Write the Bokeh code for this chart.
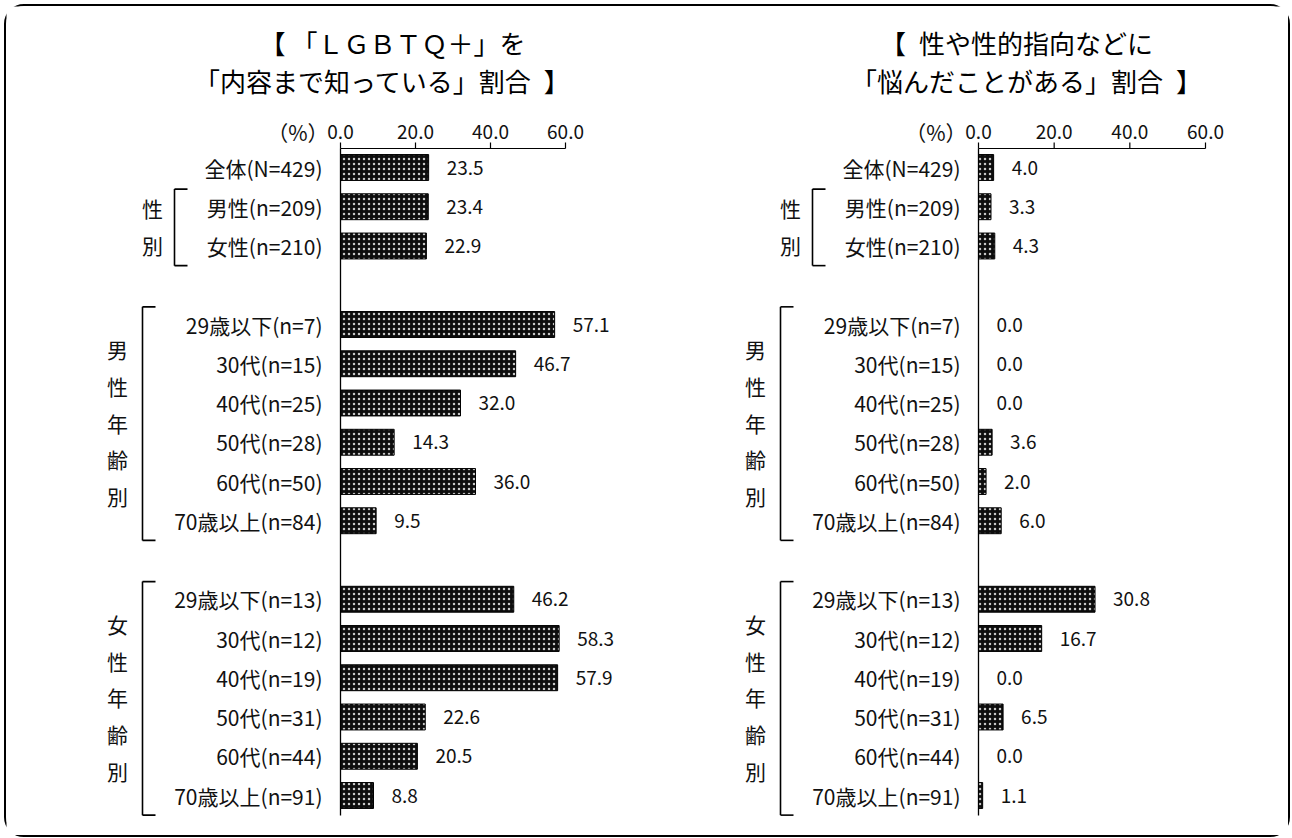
from bokeh.plotting import figure
from bokeh.models import ColumnDataSource, Range1d, Row, InlineStyleSheet
from bokeh.embed import file_html
from bokeh.resources import INLINE
from bokeh.core.properties import value

# ---------------- data ----------------
categories = ["全体(N=429)", "男性(n=209)", "女性(n=210)",
              "29歳以下(n=7)", "30代(n=15)", "40代(n=25)", "50代(n=28)", "60代(n=50)", "70歳以上(n=84)",
              "29歳以下(n=13)", "30代(n=12)", "40代(n=19)", "50代(n=31)", "60代(n=44)", "70歳以上(n=91)"]
group_sizes = [1, 2, 6, 6]
group_labels = [None, "性\n別", "男\n性\n年\n齢\n別", "女\n性\n年\n齢\n別"]
know_pct = [23.5, 23.4, 22.9, 57.1, 46.7, 32.0, 14.3, 36.0, 9.5, 46.2, 58.3, 57.9, 22.6, 20.5, 8.8]
worry_pct = [4.0, 3.3, 4.3, 0.0, 0.0, 0.0, 3.6, 2.0, 6.0, 30.8, 16.7, 0.0, 6.5, 0.0, 1.1]
x_ticks = [0, 20, 40, 60]
tick_labels = ["0.0", "20.0", "40.0", "60.0"]
unit_label = "（%）"
titles = [["【 「ＬＧＢＴＱ＋」を", "「内容まで知っている」割合\u2002】"],
          ["【\u2002性や性的指向などに", "「悩んだことがある」割合\u2002】"]]

FONT = "Noto Sans CJK JP"
TXT = "#111111"

# slot positions (one blank slot before each age group)
slots = []
group_ranges = []
s = 0
for gi, size in enumerate(group_sizes):
    if gi >= 2:
        s += 1
    first = s
    for _ in range(size):
        slots.append(s)
        s += 1
    group_ranges.append((first, s - 1))

# ---------------- layout (pixels) ----------------
FIG_TOP = 6
H = 829
SLOT_PX = 39.25
ROW0_PY = 167          # page y of first row


def Y(py):
    """page-pixel y -> slot units"""
    return (py - ROW0_PY) / SLOT_PX


bracket_off = [None, 166, 198, 198]
label_off = [None, 188, 223, 223]


def make_panel(vals, title_lines, title_offsets, fig_left, width, zero_page, scale):
    def X(px):  # pixel distance from zero -> data units
        return px / scale

    xs = (fig_left - zero_page) / scale
    xe = xs + width / scale
    p = figure(width=width, height=H, x_range=Range1d(xs, xe), y_range=Range1d(Y(FIG_TOP + H), Y(FIG_TOP)),
               output_backend="svg", toolbar_location=None,
               x_axis_location=None, y_axis_location=None,
               min_border_left=0, min_border_right=0, min_border_top=0, min_border_bottom=0)
    p.outline_line_color = None
    p.grid.visible = False
    p.background_fill_color = "white"
    p.border_fill_color = "white"

    # ---- top value axis (0-60) ----
    ax_y = Y(148)
    p.segment(x0=[x_ticks[0]], y0=[ax_y], x1=[x_ticks[-1]], y1=[ax_y], line_color="#000", line_width=1.2)
    p.segment(x0=x_ticks, y0=[ax_y] * len(x_ticks), x1=x_ticks, y1=[Y(142)] * len(x_ticks),
              line_color="#000", line_width=1.2)
    p.text(x=x_ticks, y=[Y(131)] * len(x_ticks), text=tick_labels, text_align="center",
           text_baseline="middle", text_font=value(FONT), text_font_size="19px", text_color=TXT)
    p.text(x=[0], y=[Y(131)], text=[unit_label], x_offset=-12, text_align="right",
           text_baseline="middle", text_font=value(FONT), text_font_size="21px", text_color=TXT)

    src = ColumnDataSource(dict(
        y=slots, v=vals, zero=[0] * len(vals), cat=categories,
        lab=["%.1f" % v for v in vals]))

    p.hbar(y="y", left="zero", right="v", height=0.66, source=src,
           fill_color="#0d0d0d", line_color="#000", line_width=1,
           hatch_pattern="dot", hatch_color="#c8c8c8", hatch_scale=5, hatch_weight=1)

    # category axis line
    p.segment(x0=[0], y0=[ax_y], x1=[0], y1=[Y(815)], line_color="#000", line_width=1.3)

    p.text(x="v", y="y", text="lab", source=src, x_offset=18, text_align="left",
           text_baseline="middle", text_font=value(FONT), text_font_size="19px", text_color=TXT)
    p.text(x="zero", y="y", text="cat", source=src, x_offset=-18, text_align="right",
           text_baseline="middle", text_font=value(FONT), text_font_size="21px", text_color=TXT)

    # group brackets + vertical labels
    for gi, lbl in enumerate(group_labels):
        if lbl is None:
            continue
        a, b = group_ranges[gi]
        y0, y1 = a - 0.45, b + 0.5
        bx = X(-bracket_off[gi])
        tx = X(-bracket_off[gi] + 13)
        p.segment(x0=[bx, bx, bx], y0=[y0, y0, y1], x1=[bx, tx, tx], y1=[y1, y0, y1],
                  line_color="#000", line_width=1.6)
        p.text(x=[X(-label_off[gi])], y=[(a + b) / 2], text=[lbl], text_align="center",
               text_baseline="middle", text_font=value(FONT), text_font_size="21px",
               text_color=TXT, text_line_height=1.22)

    # titles
    for line, off, py in zip(title_lines, title_offsets, [42, 80]):
        p.text(x=[X(off)], y=[Y(py)], text=[line], text_align="center", text_baseline="middle",
               text_font=value(FONT), text_font_size="26px", text_color="#000")
    return p


p1 = make_panel(know_pct, titles[0], [52, 42], 6, 641, 340, 3.75)
p2 = make_panel(worry_pct, titles[1], [38, 48], 647, 641, 978, 227 / 60)

layout = Row(children=[p1, p2], margin=(4, 0, 0, 4),
             stylesheets=[InlineStyleSheet(css=":host { border: 2px solid #000; border-radius: 20px; }")])

open("out.html", "w").write(file_html(layout, INLINE))
